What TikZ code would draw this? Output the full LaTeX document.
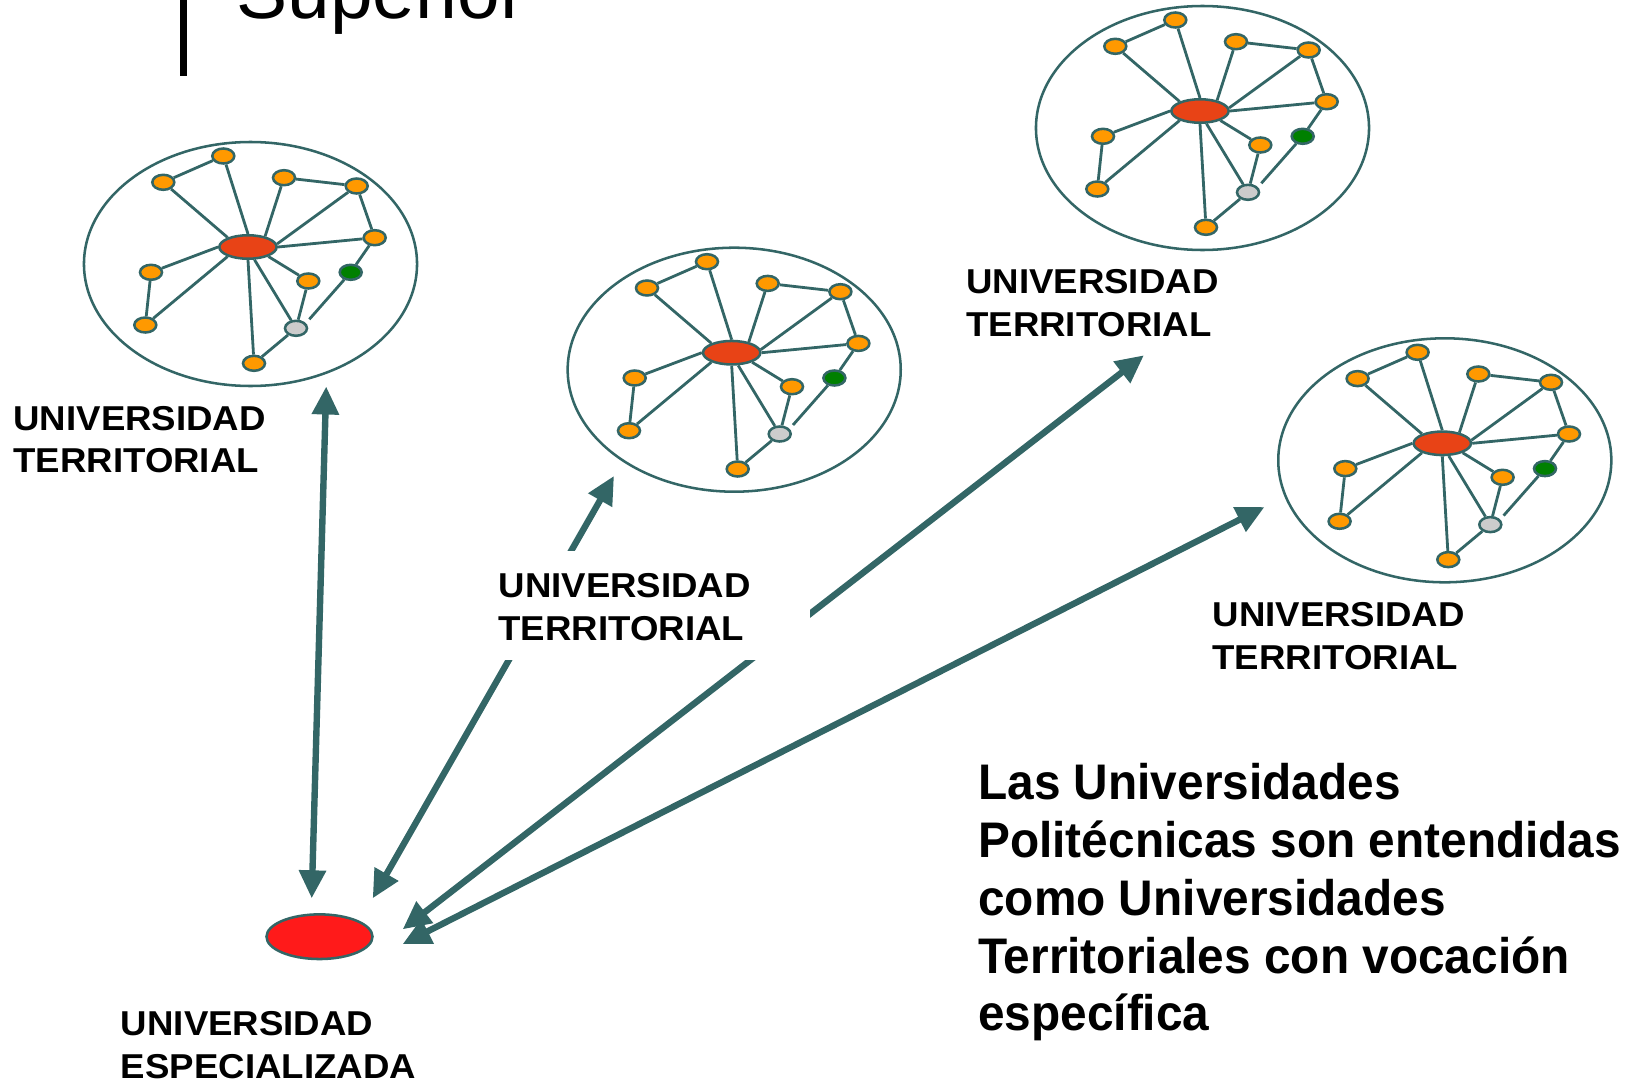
\documentclass[tikz,border=0pt]{standalone}
\usepackage{fontspec}
\setmainfont{Liberation Sans}
\newfontfamily\lblfont[FakeStretch=1.06]{Liberation Sans}
\newfontfamily\parfont[FakeStretch=0.956]{Liberation Sans}
\usetikzlibrary{arrows.meta,shapes.geometric}
\definecolor{teal}{RGB}{51,102,102}
\definecolor{orng}{RGB}{255,153,0}
\definecolor{hubred}{RGB}{232,67,22}
\definecolor{grn}{RGB}{0,128,0}
\definecolor{gry}{RGB}{204,204,204}
\definecolor{spred}{RGB}{255,26,26}
\tikzset{
  rim/.style={draw=teal,line width=1.9pt},
  link/.style={draw=teal,line width=2.1pt},
  dot/.style={ellipse,draw=teal,line width=1.9pt,inner sep=0pt,minimum width=16.5pt,minimum height=11.25pt},
  leaf/.style={dot,fill=orng},
  hub/.style={ellipse,draw=teal,line width=1.9pt,fill=hubred,inner sep=0pt,minimum width=43pt,minimum height=17.6pt},
  bigarrow/.style={draw=teal,line width=4.8pt,{Triangle[length=21pt,width=19.5pt]}-{Triangle[length=21pt,width=19.5pt]}},
  lbl/.style={font=\lblfont\bfseries\fontsize{25.9}{32}\selectfont,align=left,inner sep=0pt,anchor=base west},
}
\begin{document}
\begin{tikzpicture}[x=0.75pt,y=-0.75pt]
\useasboundingbox (0,0) rectangle (1629,1085);
\clip (0,0) rectangle (1629,1085);
% title remnant
\fill[black] (180,0) rectangle (187,76);
\node[font=\fontsize{57.5}{62}\selectfont,inner sep=0pt,anchor=base west] (title) at (236,18.3) {Superior};
% clusters
\foreach \n/\cx/\cy in {A/248/247, B/731.7/352.7, C/1200/111, D/1442.3/443.3} {
\begin{scope}[shift={(\cx,\cy)}]
  \draw[rim] (2.5,17) ellipse [x radius=124.9pt, y radius=91.5pt];
  \node[hub] (\n-h) at (0,0) {};
  \node[leaf] (\n-o1) at (-24.7,-91) {};
  \node[leaf] (\n-o2) at (-84.7,-64.7) {};
  \node[leaf] (\n-o3) at (36,-69.3) {};
  \node[leaf] (\n-o4) at (108.7,-61) {};
  \node[leaf] (\n-o5) at (126.7,-9.3) {};
  \node[leaf] (\n-o6) at (-97,25.3) {};
  \node[leaf] (\n-o7) at (-102.7,78) {};
  \node[leaf] (\n-o8) at (60.3,34) {};
  \node[dot,fill=grn] (\n-gr) at (102.7,25.3) {};
  \node[dot,fill=gry] (\n-gy) at (48,81.3) {};
  \node[leaf] (\n-o9) at (6,116.3) {};
  \coordinate (\n-ge) at (61.3,72.3);
  \draw[link] (\n-o2) -- (\n-o1);
  \draw[link] (\n-o1) -- (\n-h.north);
  \draw[link] (\n-o2) -- (\n-h.155);
  \draw[link] (\n-o3) -- (\n-h.32);
  \draw[link] (\n-o3) -- (\n-o4);
  \draw[link] (\n-o4) -- (\n-h.6);
  \draw[link] (\n-o4) -- (\n-o5);
  \draw[link] (\n-o5) -- (\n-h.east);
  \draw[link] (\n-o5) -- (\n-gr);
  \draw[link] (\n-h.west) -- (\n-o6);
  \draw[link] (\n-o6) -- (\n-o7);
  \draw[link] (\n-o7) -- (\n-h.205);
  \draw[link] (\n-h.335) -- (\n-o8);
  \draw[link] (\n-h.297) -- (\n-gy);
  \draw[link] (\n-h.south) -- (\n-o9);
  \draw[link] (\n-o8) -- (\n-gy);
  \draw[link] (\n-gy) -- (\n-o9);
  \draw[link] (\n-gr) -- (\n-ge);
\end{scope}
}
% specialised university
\node[ellipse,draw=teal,line width=1.9pt,fill=spred,inner sep=0pt,minimum width=79.5pt,minimum height=33.5pt] (spec) at (319.5,936.7) {};
% arrow end points
\coordinate (a1t) at (326.2,386.5); \coordinate (a1b) at (311.7,898.3);
\coordinate (a2t) at (614,475.9);   \coordinate (a2b) at (372.7,898.3);
\coordinate (a3t) at (1143.9,355.3);\coordinate (a3b) at (402.7,929.3);
\coordinate (a4t) at (1264.5,507);  \coordinate (a4b) at (402.7,944);
\draw[bigarrow] (a1t) -- (a1b);
\draw[bigarrow] (a2t) -- (a2b);
\draw[bigarrow] (a3t) -- (a3b);
\draw[bigarrow] (a4t) -- (a4b);
% labels (base anchor = baseline of last line)
\node[lbl] (lA) at (13.3,472.7) {UNIVERSIDAD\\TERRITORIAL};
\fill[white] (488,551) rectangle (810,660);
\node[lbl] (lB) at (498.3,640) {UNIVERSIDAD\\TERRITORIAL};
\node[lbl] (lC) at (966,336.5) {UNIVERSIDAD\\TERRITORIAL};
\node[lbl] (lD) at (1212.3,669) {UNIVERSIDAD\\TERRITORIAL};
\node[lbl] (lS) at (120.7,1078) {UNIVERSIDAD\\ESPECIALIZADA};
\node[font=\parfont\bfseries\fontsize{37.5}{43.3}\selectfont,align=left,inner sep=0pt,anchor=base west] (para) at (978,1030.8)
  {Las Universidades\\Politécnicas son entendidas\\como Universidades\\Territoriales con vocación\\específica};
\end{tikzpicture}
\end{document}
